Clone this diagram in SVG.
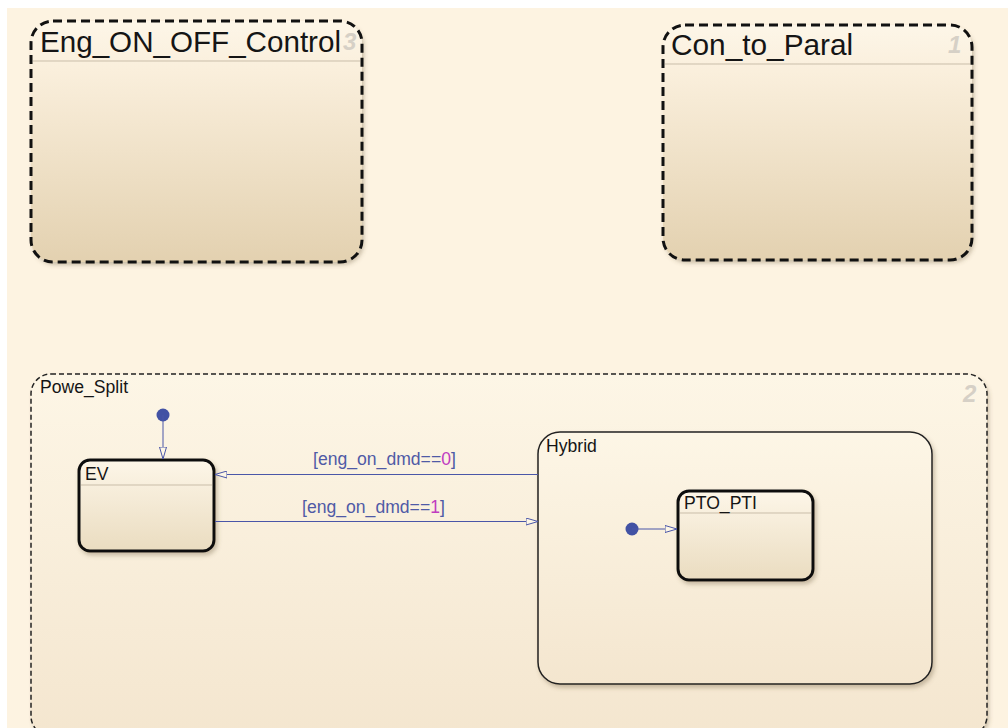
<svg xmlns="http://www.w3.org/2000/svg" width="1008" height="728" viewBox="0 0 1008 728">
  <defs>
    <linearGradient id="gTop" x1="0" y1="0" x2="0" y2="1">
      <stop offset="0" stop-color="#fdf6e8"/>
      <stop offset="0.2" stop-color="#faefdc"/>
      <stop offset="1" stop-color="#e3d1b0"/>
    </linearGradient>
    <linearGradient id="gBig" x1="0" y1="0" x2="0" y2="1">
      <stop offset="0" stop-color="#fdf6e6"/>
      <stop offset="1" stop-color="#f4e6cf"/>
    </linearGradient>
    <linearGradient id="gSmall" x1="0" y1="0" x2="0" y2="1">
      <stop offset="0" stop-color="#fdf6e8"/>
      <stop offset="1" stop-color="#eadcc0"/>
    </linearGradient>
    <filter id="shadow" x="-10%" y="-10%" width="130%" height="130%">
      <feDropShadow dx="2" dy="3" stdDeviation="2" flood-color="#6b5a3a" flood-opacity="0.35"/>
    </filter>
    <marker id="openArrow" viewBox="0 0 12 8" refX="12" refY="4" markerWidth="12" markerHeight="8" markerUnits="userSpaceOnUse" orient="auto">
      <path d="M0,0.5 L12,4 L0,7.5 Z" fill="#fdf6e6" stroke="#4a56a8" stroke-width="1"/>
    </marker>
    <style>
      .title { font-family: "Liberation Sans", Arial, sans-serif; fill: #151515; }
      .small { font-size: 17.6px; }
      .num { font-family: "Liberation Sans", Arial, sans-serif; fill: #d6d0c6; font-style: italic; font-weight: bold; }
      .hdr { stroke: #c9bda9; stroke-width: 1; }
      .lbl { font-family: "Liberation Sans", Arial, sans-serif; font-size: 17.6px; fill: #4f5aa6; }
      .val { fill: #c03cc0; }
      .conn { stroke: #4a56a8; stroke-width: 1; fill: none; }
      .dot { fill: #4252a4; }
    </style>
  </defs>

  <!-- canvas -->
  <rect x="0" y="0" width="1008" height="728" fill="#ffffff"/>
  <rect x="7" y="8" width="1001" height="720" fill="#fdf3e1"/>

  <!-- parallel state: Eng_ON_OFF_Control -->
  <g id="eng_on_off_control">
    <rect x="31" y="21" width="331" height="241" rx="22" fill="url(#gTop)" filter="url(#shadow)"/>
    <line class="hdr" x1="33" y1="61" x2="360" y2="61"/>
    <text class="num" x="343" y="50" font-size="24">3</text>
    <rect x="31" y="21" width="331" height="241" rx="22" fill="none" stroke="#111" stroke-width="3" stroke-dasharray="9 5"/>
    <text class="title" x="40" y="52" font-size="29.6">Eng_ON_OFF_Control</text>
  </g>

  <!-- parallel state: Con_to_Paral -->
  <g id="con_to_paral">
    <rect x="663" y="25" width="309" height="235" rx="22" fill="url(#gTop)" filter="url(#shadow)"/>
    <line class="hdr" x1="665" y1="64" x2="970" y2="64"/>
    <text class="num" x="948" y="53" font-size="24">1</text>
    <rect x="663" y="25" width="309" height="235" rx="22" fill="none" stroke="#111" stroke-width="3" stroke-dasharray="9 5"/>
    <text class="title" x="671" y="55" font-size="29.8">Con_to_Paral</text>
  </g>

  <!-- parallel state: Powe_Split -->
  <g id="powe_split">
    <rect x="31" y="374" width="956" height="362" rx="20" fill="url(#gBig)" filter="url(#shadow)"/>
    <rect x="31" y="374" width="956" height="362" rx="20" fill="none" stroke="#222" stroke-width="1.5" stroke-dasharray="5 3"/>
    <text class="title small" x="40" y="393">Powe_Split</text>
    <text class="num" x="963" y="402" font-size="24" font-style="normal">2</text>
  </g>

  <!-- state: Hybrid -->
  <g id="hybrid">
    <rect x="538" y="432" width="394" height="252" rx="22" fill="url(#gBig)" stroke="#222" stroke-width="1.5" filter="url(#shadow)"/>
    <text class="title small" x="546" y="452">Hybrid</text>
  </g>

  <!-- state: EV -->
  <g id="ev">
    <rect x="79" y="460" width="135" height="91" rx="11" fill="url(#gSmall)" stroke="#111" stroke-width="3" filter="url(#shadow)"/>
    <line class="hdr" x1="81" y1="485" x2="212" y2="485"/>
    <text class="title small" x="85" y="480">EV</text>
  </g>

  <!-- state: PTO_PTI -->
  <g id="pto_pti">
    <rect x="678" y="491" width="135" height="89" rx="11" fill="url(#gSmall)" stroke="#111" stroke-width="3" filter="url(#shadow)"/>
    <line class="hdr" x1="680" y1="513" x2="811" y2="513"/>
    <text class="title small" x="684" y="509">PTO_PTI</text>
  </g>

  <!-- transitions -->
  <g id="connectors">
    <circle class="dot" cx="163" cy="415" r="6.5"/>
    <line class="conn" x1="163" y1="415" x2="163" y2="459" marker-end="url(#openArrow)"/>

    <line class="conn" x1="538" y1="474.5" x2="215" y2="474.5" marker-end="url(#openArrow)"/>
    <text class="lbl" x="313" y="465">[eng_on_dmd==<tspan class="val">0</tspan>]</text>

    <line class="conn" x1="215" y1="521.5" x2="538" y2="521.5" marker-end="url(#openArrow)"/>
    <text class="lbl" x="302" y="513">[eng_on_dmd==<tspan class="val">1</tspan>]</text>

    <circle class="dot" cx="632" cy="529" r="6.5"/>
    <line class="conn" x1="632" y1="529" x2="677" y2="529" marker-end="url(#openArrow)"/>
  </g>
</svg>
